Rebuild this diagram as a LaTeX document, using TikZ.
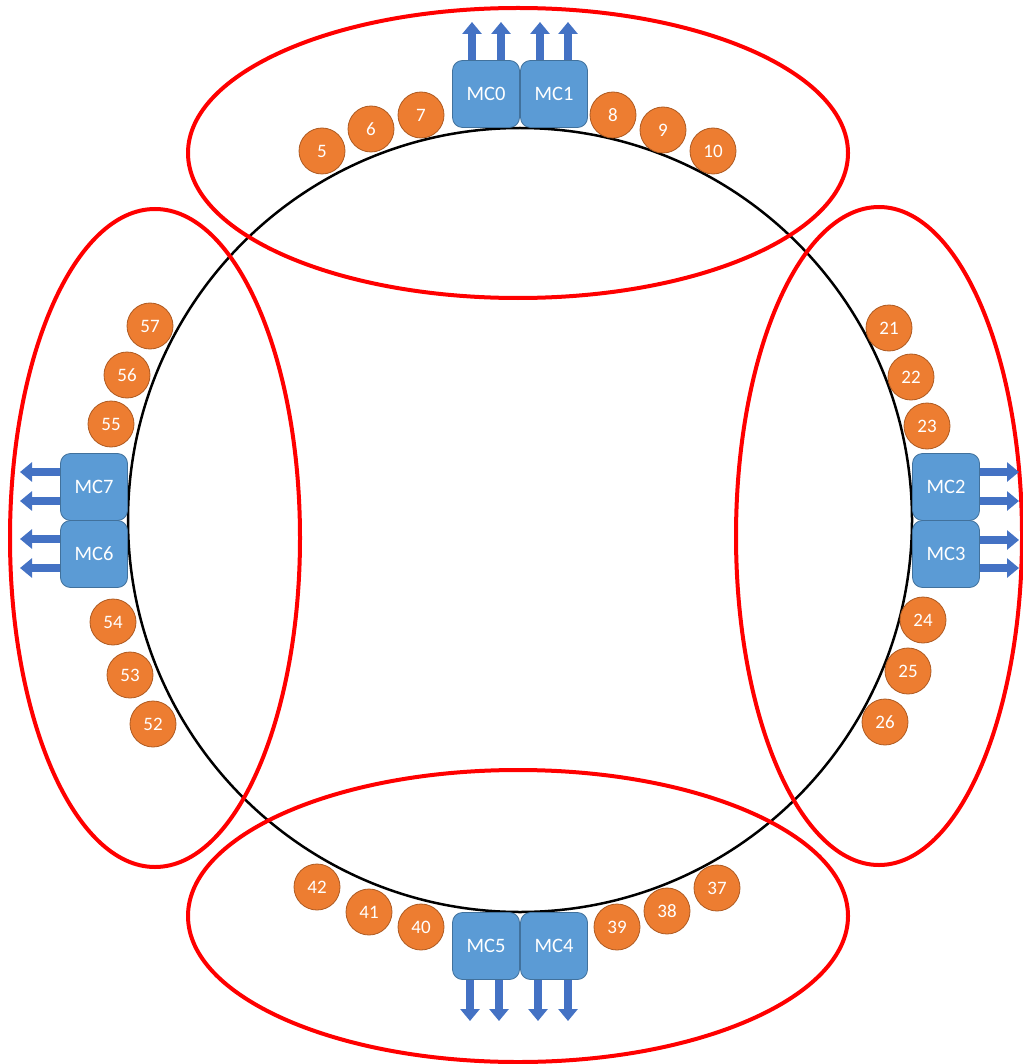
\documentclass[tikz,border=0pt]{standalone}
\usepackage{fontspec}
\setmainfont{Carlito}
\usetikzlibrary{arrows.meta}
\definecolor{mcblue}{HTML}{5B9BD5}
\definecolor{mcedge}{HTML}{41719C}
\definecolor{stoporange}{HTML}{ED7D31}
\definecolor{stopedge}{HTML}{AE5A21}
\definecolor{busblue}{HTML}{4472C4}
\begin{document}
\begin{tikzpicture}[x=1pt,y=-1pt,
  mc/.style={draw=mcedge, fill=mcblue, rounded corners=10pt, minimum size=67pt,
    inner sep=0pt, line width=0.8pt, text=white, font=\fontsize{20.5}{21}\selectfont},
  stop/.style={circle, draw=stopedge, fill=stoporange, minimum size=46pt,
    inner sep=0pt, line width=0.8pt, text=white, font=\fontsize{19}{19}\selectfont},
  bus/.style={draw=busblue, line width=8.5pt, -{Triangle[width=19pt,length=12pt]}},
  ring/.style={draw=red, line width=4pt},
  loop/.style={draw=black, line width=2.5pt}]
\useasboundingbox (0,0) rectangle (1022,1064);

% main ring
\draw[loop] (520,520) circle [radius=392pt];

% quadrant groupings
\draw[ring] (518,153) ellipse [x radius=330pt, y radius=145pt];
\draw[ring] (518,916) ellipse [x radius=330pt, y radius=146pt];
\draw[ring] (155,538) ellipse [x radius=145pt, y radius=329pt];
\draw[ring] (879,536) ellipse [x radius=143pt, y radius=329pt];

% memory controllers
\node[mc] (mc0) at (486,94) {MC0};
\node[mc] (mc1) at (554,94) {MC1};
\node[mc] (mc2) at (946,487) {MC2};
\node[mc] (mc3) at (946,554) {MC3};
\node[mc] (mc4) at (554,946) {MC4};
\node[mc] (mc5) at (486,946) {MC5};
\node[mc] (mc6) at (94,554) {MC6};
\node[mc] (mc7) at (94,487) {MC7};

% ring stops
\foreach \n/\x/\y in {5/322/151, 6/371/129, 7/421/115, 8/613/115, 9/663/130, 10/713/151,
    21/889/328, 22/911/377, 23/927/426, 24/923/620, 25/908/671, 26/885/722,
    37/717/888, 38/667/911, 39/617/927, 40/421/927, 41/369/912, 42/317/887,
    52/153/724, 53/130/675, 54/113/622, 55/111/424, 56/127/375, 57/150/326}
  \node[stop] (s\n) at (\x,\y) {\n};

% channel ends
\coordinate (u0a) at (472,22);  \coordinate (u0b) at (501,22);
\coordinate (u1a) at (540,22);  \coordinate (u1b) at (568,22);
\coordinate (d5a) at (470,1021); \coordinate (d5b) at (499,1021);
\coordinate (d4a) at (538,1021); \coordinate (d4b) at (568,1021);
\coordinate (l7a) at (20,472);  \coordinate (l7b) at (20,501);
\coordinate (l6a) at (20,539);  \coordinate (l6b) at (20,568);
\coordinate (r2a) at (1019,472); \coordinate (r2b) at (1019,501);
\coordinate (r3a) at (1019,540); \coordinate (r3b) at (1019,568);

% memory channels
\draw[bus] (mc0.north -| u0a) -- (u0a);
\draw[bus] (mc0.north -| u0b) -- (u0b);
\draw[bus] (mc1.north -| u1a) -- (u1a);
\draw[bus] (mc1.north -| u1b) -- (u1b);
\draw[bus] (mc5.south -| d5a) -- (d5a);
\draw[bus] (mc5.south -| d5b) -- (d5b);
\draw[bus] (mc4.south -| d4a) -- (d4a);
\draw[bus] (mc4.south -| d4b) -- (d4b);
\draw[bus] (mc7.west |- l7a) -- (l7a);
\draw[bus] (mc7.west |- l7b) -- (l7b);
\draw[bus] (mc6.west |- l6a) -- (l6a);
\draw[bus] (mc6.west |- l6b) -- (l6b);
\draw[bus] (mc2.east |- r2a) -- (r2a);
\draw[bus] (mc2.east |- r2b) -- (r2b);
\draw[bus] (mc3.east |- r3a) -- (r3a);
\draw[bus] (mc3.east |- r3b) -- (r3b);
\end{tikzpicture}
\end{document}
